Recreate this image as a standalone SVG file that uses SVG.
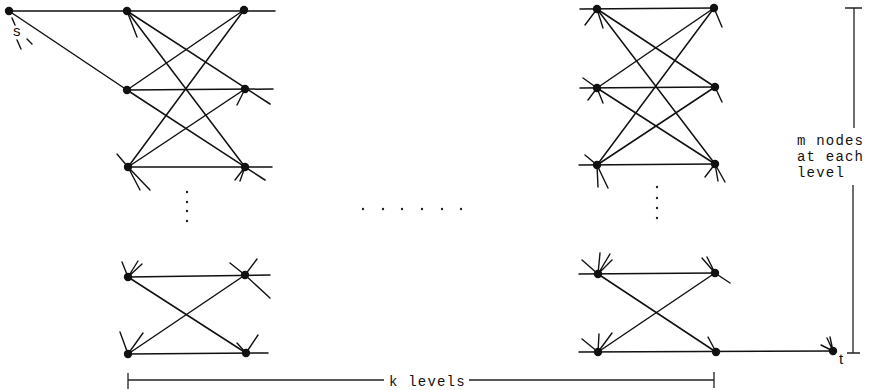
<svg xmlns="http://www.w3.org/2000/svg" width="872" height="390" viewBox="0 0 872 390">
<style>
.e{stroke:#111;stroke-width:1.5;fill:none;stroke-linecap:round}
.st{stroke:#111;stroke-width:1.4;fill:none;stroke-linecap:round}
.n{fill:#111}
.d{fill:#222}
.t{font-family:"Liberation Mono",monospace;font-size:14px;letter-spacing:1.2px;fill:#111}
.b{stroke:#222;stroke-width:1.3;fill:none}
.lbl{font-family:"Liberation Sans",sans-serif;font-size:15px;fill:#111}
</style>
<rect width="872" height="390" fill="#fff"/>
<g id="connectors">
<path class="e" d="M9,11 L275,11"/>
<path class="e" d="M9,11 L127,90"/>
<path class="e" d="M127,90 L273,89"/>
<path class="e" d="M128,167 L272,167"/>
<path class="e" d="M127,11 L270,104"/>
<path class="e" d="M127,11 L245,167"/>
<path class="e" d="M127,90 L265,180"/>
<path class="e" d="M127,90 L244,10"/>
<path class="e" d="M128,167 L244,10"/>
<path class="e" d="M128,167 L245,89"/>
<path class="st" d="M127,11 L137,37"/>
<path class="st" d="M128,167 L117,154 M128,167 L150,190 M128,167 L140,190"/>
<path class="st" d="M245,89 L237,105"/>
<path class="st" d="M245,167 L235,180 M245,167 L240,181"/>
<path class="st" d="M12,18 L15,25 M17,40 L21,49 M27,39 L32,44"/>
<path class="e" d="M128,277 L270,275"/>
<path class="e" d="M128,354 L268,353"/>
<path class="e" d="M128,277 L246,353"/>
<path class="e" d="M128,354 L245,275"/>
<path class="st" d="M128,277 L122,262 M128,277 L138,261 M128,277 L142,264"/>
<path class="st" d="M245,275 L230,263 M245,275 L257,259 M245,275 L270,298"/>
<path class="st" d="M128,354 L120,332 M128,354 L143,333"/>
<path class="st" d="M246,353 L237,343 M246,353 L258,335"/>
<path class="e" d="M580,9 L714,8"/>
<path class="e" d="M580,88 L715,87"/>
<path class="e" d="M579,165 L715,164"/>
<path class="e" d="M597,9 L715,87"/>
<path class="e" d="M597,9 L715,164"/>
<path class="e" d="M597,88 L714,8"/>
<path class="e" d="M597,88 L715,164"/>
<path class="e" d="M597,165 L714,8"/>
<path class="e" d="M597,165 L715,87"/>
<path class="st" d="M597,9 L585,25 M597,9 L603,28"/>
<path class="st" d="M597,88 L583,78 M597,88 L588,100 M597,88 L603,103"/>
<path class="st" d="M597,165 L585,155 M597,165 L598,187 M597,165 L608,188"/>
<path class="st" d="M714,8 L722,27"/>
<path class="st" d="M715,87 L722,102"/>
<path class="st" d="M715,164 L705,177 M715,164 L725,182 M715,164 L718,181"/>
<path class="e" d="M579,274 L715,273"/>
<path class="e" d="M579,352 L833,351"/>
<path class="e" d="M598,274 L716,352"/>
<path class="e" d="M598,352 L715,273"/>
<path class="st" d="M598,274 L582,260 M598,274 L600,253 M598,274 L610,254 M598,274 L612,260"/>
<path class="st" d="M715,273 L702,258 M715,273 L707,257 M715,273 L730,283"/>
<path class="st" d="M598,352 L582,339 M598,352 L599,334 M598,352 L612,333"/>
<path class="st" d="M716,352 L708,337"/>
<path class="st" d="M833,351 L821,345 M833,351 L827,338 M833,351 L830,337"/>
</g>
<g id="node-s"><circle class="n" cx="9" cy="11" r="4.2"/><text class="lbl" x="13" y="36">s</text></g>
<g id="node-L1"><circle class="n" cx="127" cy="11" r="4.2"/></g>
<g id="node-L2"><circle class="n" cx="127" cy="90" r="4.2"/></g>
<g id="node-L3"><circle class="n" cx="128" cy="167" r="4.2"/></g>
<g id="node-R1"><circle class="n" cx="244" cy="10" r="4.2"/></g>
<g id="node-R2"><circle class="n" cx="245" cy="89" r="4.2"/></g>
<g id="node-R3"><circle class="n" cx="245" cy="167" r="4.2"/></g>
<g id="node-A"><circle class="n" cx="128" cy="277" r="4.2"/></g>
<g id="node-B"><circle class="n" cx="245" cy="275" r="4.2"/></g>
<g id="node-C"><circle class="n" cx="128" cy="354" r="4.2"/></g>
<g id="node-D"><circle class="n" cx="246" cy="353" r="4.2"/></g>
<g id="node-P1"><circle class="n" cx="597" cy="9" r="4.2"/></g>
<g id="node-P2"><circle class="n" cx="597" cy="88" r="4.2"/></g>
<g id="node-P3"><circle class="n" cx="597" cy="165" r="4.2"/></g>
<g id="node-Q1"><circle class="n" cx="714" cy="8" r="4.2"/></g>
<g id="node-Q2"><circle class="n" cx="715" cy="87" r="4.2"/></g>
<g id="node-Q3"><circle class="n" cx="715" cy="164" r="4.2"/></g>
<g id="node-E"><circle class="n" cx="598" cy="274" r="4.2"/></g>
<g id="node-F"><circle class="n" cx="715" cy="273" r="4.2"/></g>
<g id="node-G"><circle class="n" cx="598" cy="352" r="4.2"/></g>
<g id="node-H"><circle class="n" cx="716" cy="352" r="4.2"/></g>
<g id="node-t"><circle class="n" cx="833" cy="351" r="4.2"/><text class="lbl" x="839" y="364">t</text></g>
<g id="ellipses">
<circle class="d" cx="187" cy="192" r="1.2"/><circle class="d" cx="187" cy="202" r="1.2"/><circle class="d" cx="187" cy="211" r="1.2"/><circle class="d" cx="187" cy="221" r="1.2"/>
<circle class="d" cx="657" cy="187" r="1.2"/><circle class="d" cx="657" cy="198" r="1.2"/><circle class="d" cx="657" cy="208" r="1.2"/><circle class="d" cx="657" cy="218" r="1.2"/>
<circle class="d" cx="363" cy="209" r="1.2"/><circle class="d" cx="383" cy="209" r="1.2"/><circle class="d" cx="402" cy="209" r="1.2"/><circle class="d" cx="422" cy="209" r="1.2"/><circle class="d" cx="442" cy="209" r="1.2"/><circle class="d" cx="461" cy="209" r="1.2"/>
</g>
<g id="k-levels">
<path class="b" d="M128,373 L128,389 M128,380 L384,380 M469,380 L714,380 M714,372 L714,388"/>
<text class="t" x="389" y="386">k levels</text>
</g>
<g id="m-nodes">
<path class="b" d="M845,8 L862,8 M854,8 L854,128 M853,185 L853,353 M847,353 L860,353"/>
<text class="t" x="797" y="145">m nodes</text>
<text class="t" x="797" y="161">at each</text>
<text class="t" x="797" y="177">level</text>
</g>
</svg>
